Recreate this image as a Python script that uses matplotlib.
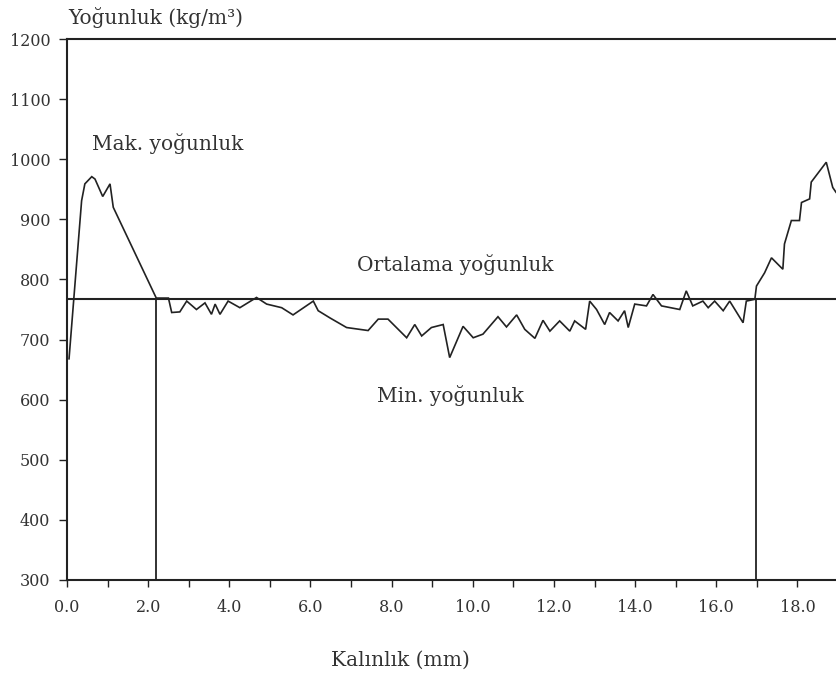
import matplotlib
matplotlib.use("Agg")
import matplotlib.pyplot as plt
from matplotlib.ticker import MultipleLocator, FixedLocator

# ---- data ----
thickness_mm = [0.05, 0.36, 0.44, 0.61, 0.69, 0.88, 1.06, 1.14, 2.20, 2.50,
                2.58, 2.78, 2.95, 3.19, 3.40, 3.56, 3.65, 3.77, 3.97, 4.26,
                4.67, 4.92, 5.29, 5.57, 6.07, 6.19, 6.48, 6.89, 7.42, 7.67,
                7.91, 8.37, 8.57, 8.74, 8.98, 9.27, 9.43, 9.76, 10.01, 10.25,
                10.62, 10.83, 11.08, 11.28, 11.53, 11.73, 11.90, 12.14, 12.39, 12.51,
                12.78, 12.88, 13.05, 13.25, 13.37, 13.58, 13.74, 13.83, 13.99, 14.28,
                14.44, 14.65, 15.10, 15.26, 15.42, 15.67, 15.80, 15.96, 16.17, 16.33,
                16.66, 16.74, 16.95, 16.99, 17.19, 17.36, 17.64, 17.68, 17.85, 18.05,
                18.10, 18.30, 18.34, 18.71, 18.87, 18.95]
density = [668, 931, 959, 971, 967, 938, 959, 920, 769, 769,
           745, 746, 764, 750, 761, 742, 759, 742, 764, 753,
           770, 759, 753, 741, 764, 748, 736, 720, 715, 734,
           734, 703, 725, 706, 720, 725, 670, 722, 703, 709,
           738, 721, 741, 717, 702, 732, 714, 731, 714, 731,
           717, 764, 750, 725, 745, 731, 748, 720, 759, 756,
           775, 756, 750, 781, 756, 764, 753, 764, 748, 764,
           728, 764, 767, 789, 811, 836, 817, 859, 898, 898,
           928, 934, 962, 995, 953, 945]
mean_density = 767
boundary_left = 2.2
boundary_right = 16.98

x_ticks = [0, 2, 4, 6, 8, 10, 12, 14, 16, 18]
x_minor = [1, 3, 5, 7, 9, 11, 13, 15, 17]
y_ticks = [300, 400, 500, 600, 700, 800, 900, 1000, 1100, 1200]

ylabel = "Yoğunluk (kg/m³)"
xlabel = "Kalınlık (mm)"
txt_max = "Mak. yoğunluk"
txt_mean = "Ortalama yoğunluk"
txt_min = "Min. yoğunluk"

# ---- figure ----
W, H = 836, 673
fig = plt.figure(figsize=(W / 100, H / 100), dpi=100)
ax = fig.add_axes([67 / W, (H - 580) / H, 1 - 67 / W, (580 - 39) / H])

ink = "#222222"
txtc = "#333333"
font = "DejaVu Serif"

ax.plot(thickness_mm, density, color=ink, lw=1.2, solid_joinstyle="miter", clip_on=True)
ax.axhline(mean_density, color=ink, lw=1.5)
ax.plot([boundary_left, boundary_left], [300, mean_density], color=ink, lw=1.3)
ax.plot([boundary_right, boundary_right], [300, mean_density], color=ink, lw=1.3)

ax.set_xlim(0, 18.95)
ax.set_ylim(300, 1200)

ax.xaxis.set_major_locator(FixedLocator(x_ticks))
ax.xaxis.set_minor_locator(FixedLocator(x_minor))
ax.set_xticklabels([f"{v:.1f}" for v in x_ticks])
ax.yaxis.set_major_locator(FixedLocator(y_ticks))
ax.set_yticklabels([str(v) for v in y_ticks])

ax.tick_params(axis="x", which="both", direction="out", length=5, width=1.0,
               colors=ink, labelcolor=txtc, pad=9, labelsize=11.5)
ax.tick_params(axis="y", which="both", direction="out", length=6, width=1.0,
               colors=ink, labelcolor=txtc, pad=6, labelsize=11.5)
for lab in ax.get_xticklabels() + ax.get_yticklabels():
    lab.set_fontfamily(font)

for s in ["left", "top", "bottom"]:
    ax.spines[s].set_color(ink)
    ax.spines[s].set_linewidth(1.5)
ax.spines["right"].set_visible(False)

def ftext(x, y, s, **kw):
    fig.text(x / W, 1 - y / H, s, family=font, color=txtc, fontsize=14.5,
             va="center", **kw)

ftext(68, 17, ylabel, ha="left")
ftext(92, 143, txt_max, ha="left")
ftext(455, 265, txt_mean, ha="center")
ftext(450, 396, txt_min, ha="center")
ftext(400, 660, xlabel, ha="center")

fig.savefig("out.png", dpi=100)
